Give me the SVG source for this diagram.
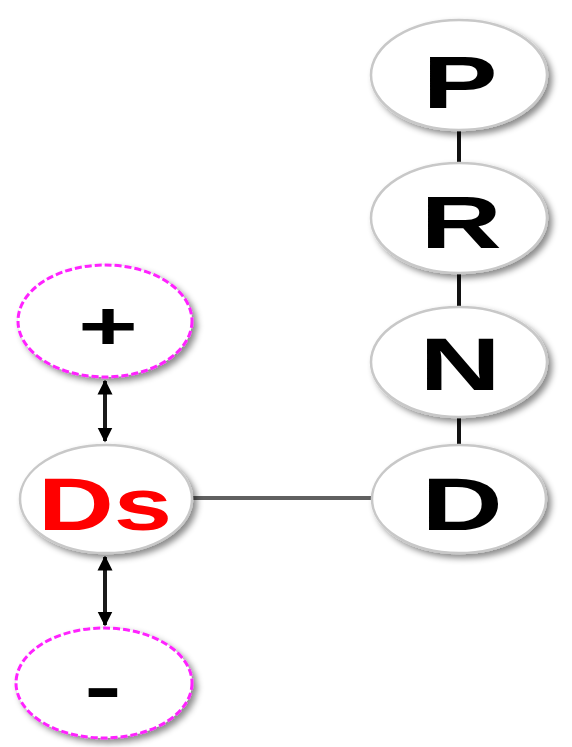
<svg xmlns="http://www.w3.org/2000/svg" width="572" height="747" viewBox="0 0 572 747">
  <style>
    .node { fill: #ffffff; stroke: #c8c8c8; stroke-width: 2.5; filter: url(#shadow); }
    .dash { fill: #ffffff; stroke: #ff22ff; stroke-width: 3; stroke-dasharray: 7 3; filter: url(#shadow); }
    .lbl { font-family: "Liberation Sans", Arial, sans-serif; font-weight: bold; font-size: 75px; fill: #000000; text-anchor: middle; }
    .red { fill: #ff0000; }
    .sym { font-size: 68px; }
    .vlink { stroke: #111111; stroke-width: 4; }
    .hlink { stroke: #606060; stroke-width: 4; }
    .arrow { stroke: #1a1a1a; stroke-width: 4; marker-start: url(#ah); marker-end: url(#ah); }
  </style>
  <defs>
    <filter id="shadow" x="-20%" y="-20%" width="150%" height="150%">
      <feDropShadow dx="4" dy="4" stdDeviation="3" flood-color="#000000" flood-opacity="0.45"/>
    </filter>
    <marker id="ah" viewBox="0 0 10 10" refX="9" refY="5" markerUnits="userSpaceOnUse" markerWidth="15" markerHeight="21" orient="auto-start-reverse">
      <path d="M0,0 L10,5 L0,10 z" fill="#000000"/>
    </marker>
  </defs>

  <g id="connectors">
    <line class="vlink" x1="459" y1="130" x2="459" y2="164"/>
    <line class="vlink" x1="459" y1="272" x2="459" y2="308"/>
    <line class="vlink" x1="459" y1="416" x2="459" y2="446"/>
    <line class="hlink" x1="192" y1="498" x2="373" y2="498"/>
    <line class="arrow" x1="105" y1="381" x2="105" y2="441"/>
    <line class="arrow" x1="105" y1="557" x2="105" y2="625"/>
  </g>

  <g id="node-P">
    <ellipse class="node" cx="459" cy="75" rx="88" ry="55"/>
    <text class="lbl" transform="translate(460 108) scale(1.5 1)">P</text>
  </g>
  <g id="node-R">
    <ellipse class="node" cx="459" cy="218" rx="88" ry="55"/>
    <text class="lbl" transform="translate(461 248) scale(1.5 1)">R</text>
  </g>
  <g id="node-N">
    <ellipse class="node" cx="459" cy="362" rx="88" ry="55"/>
    <text class="lbl" transform="translate(460 390) scale(1.5 1)">N</text>
  </g>
  <g id="node-D">
    <ellipse class="node" cx="459" cy="499" rx="87" ry="54"/>
    <text class="lbl" transform="translate(462 530) scale(1.5 1)">D</text>
  </g>
  <g id="node-plus">
    <ellipse class="dash" cx="105" cy="321" rx="87" ry="56"/>
    <text class="lbl sym" transform="translate(108 349) scale(1.5 1)">+</text>
  </g>
  <g id="node-Ds">
    <ellipse class="node" cx="106" cy="499" rx="86" ry="54"/>
    <text class="lbl red" transform="translate(105 530) scale(1.4 1)">Ds</text>
  </g>
  <g id="node-minus">
    <ellipse class="dash" cx="104" cy="683" rx="88" ry="55"/>
    <text class="lbl" transform="translate(103 712) scale(1.5 1)">-</text>
  </g>
</svg>
